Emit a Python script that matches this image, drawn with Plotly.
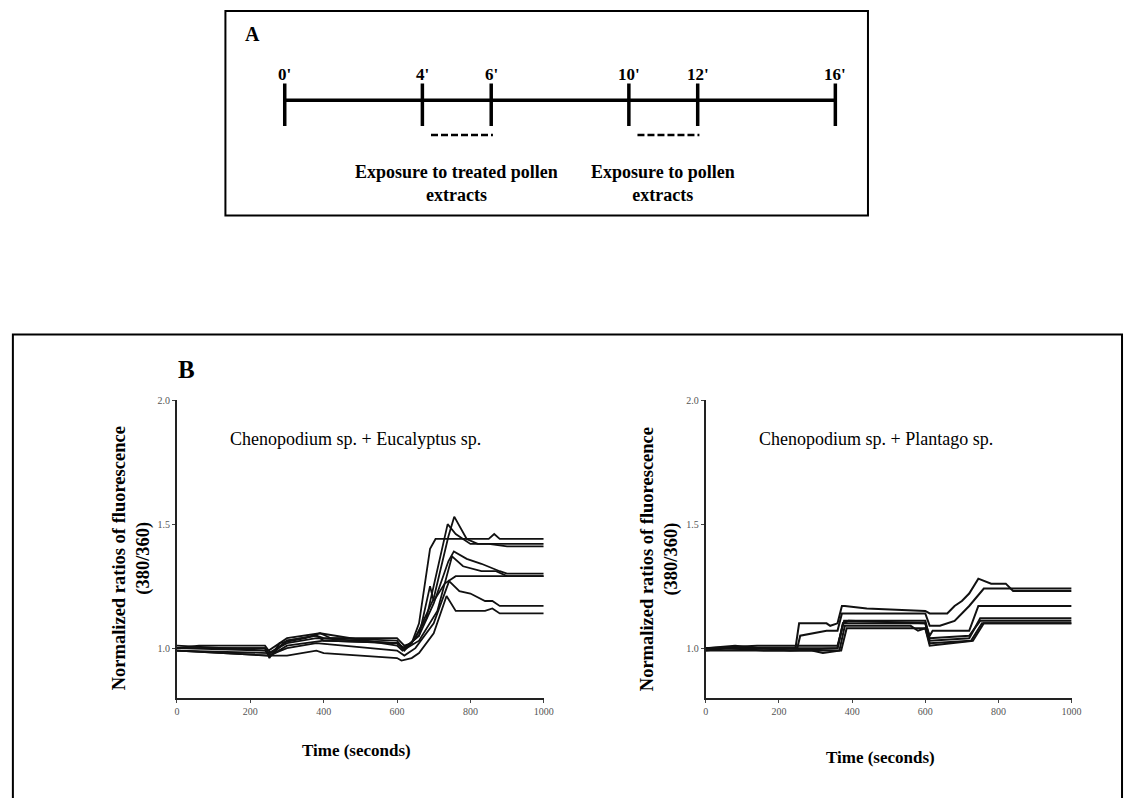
import plotly.graph_objects as go

# ---------------- Panel A data ----------------
timeline_minutes = [0, 4, 6, 10, 12, 16]
timeline_labels = ["0'", "4'", "6'", "10'", "12'", "16'"]
exposure_windows = [(4, 6), (10, 12)]
exposure_texts = ["Exposure to treated pollen<br>extracts", "Exposure to pollen<br>extracts"]

# ---------------- Panel B data (left: Chenopodium + Eucalyptus) ----------------
left_t1 = [0, 60, 240, 255, 300, 380, 400, 600, 620, 640, 660, 690, 705, 850, 865, 880, 1000]
left_v1 = [1.00, 1.01, 1.01, 0.98, 1.03, 1.05, 1.04, 1.04, 1.01, 1.02, 1.10, 1.40, 1.44, 1.44, 1.46, 1.44, 1.44]
left_t2 = [0, 240, 252, 280, 350, 390, 420, 600, 615, 640, 680, 715, 738, 760, 800, 850, 900, 1000]
left_v2 = [1.00, 1.00, 0.96, 1.02, 1.04, 1.06, 1.04, 1.03, 1.00, 1.02, 1.12, 1.35, 1.50, 1.46, 1.42, 1.42, 1.41, 1.41]
left_t3 = [0, 240, 255, 300, 380, 400, 600, 620, 650, 700, 740, 756, 790, 820, 1000]
left_v3 = [1.00, 1.00, 0.97, 1.03, 1.05, 1.03, 1.02, 0.99, 1.04, 1.20, 1.45, 1.53, 1.44, 1.42, 1.42]
left_t4 = [0, 250, 300, 380, 600, 620, 660, 700, 740, 755, 790, 830, 880, 900, 1000]
left_v4 = [0.99, 0.98, 1.02, 1.04, 1.02, 1.00, 1.05, 1.18, 1.35, 1.39, 1.36, 1.34, 1.31, 1.30, 1.30]
left_t5 = [0, 250, 300, 390, 600, 615, 660, 710, 750, 780, 830, 870, 900, 1000]
left_v5 = [1.01, 0.99, 1.04, 1.06, 1.01, 0.99, 1.03, 1.15, 1.37, 1.33, 1.31, 1.31, 1.29, 1.29]
left_t6 = [0, 240, 255, 300, 400, 600, 620, 660, 690, 700, 730, 760, 1000]
left_v6 = [1.00, 0.99, 0.97, 1.01, 1.03, 1.02, 1.00, 1.05, 1.25, 1.19, 1.26, 1.29, 1.29]
left_t7 = [0, 250, 300, 380, 600, 620, 650, 700, 742, 770, 800, 840, 860, 880, 1000]
left_v7 = [0.99, 0.97, 1.00, 1.02, 0.99, 0.97, 1.00, 1.10, 1.27, 1.23, 1.22, 1.19, 1.19, 1.17, 1.17]
left_t8 = [0, 250, 300, 380, 400, 500, 600, 612, 640, 660, 700, 735, 760, 840, 860, 880, 1000]
left_v8 = [0.99, 0.97, 0.97, 0.99, 0.98, 0.97, 0.96, 0.95, 0.96, 0.98, 1.06, 1.21, 1.15, 1.15, 1.16, 1.14, 1.14]

# ---------------- Panel B data (right: Chenopodium + Plantago) ----------------
right_t1 = [0, 245, 255, 330, 340, 360, 372, 380, 440, 600, 612, 660, 680, 700, 720, 745, 780, 820, 840, 1000]
right_v1 = [1.00, 1.00, 1.10, 1.10, 1.09, 1.10, 1.17, 1.17, 1.16, 1.15, 1.14, 1.14, 1.17, 1.19, 1.22, 1.28, 1.26, 1.26, 1.23, 1.23]
right_t2 = [0, 250, 258, 300, 330, 360, 372, 385, 600, 612, 640, 680, 720, 760, 1000]
right_v2 = [1.00, 1.00, 1.05, 1.06, 1.07, 1.07, 1.14, 1.14, 1.14, 1.09, 1.09, 1.11, 1.17, 1.24, 1.24]
right_t3 = [0, 80, 150, 230, 360, 375, 390, 600, 612, 620, 720, 745, 1000]
right_v3 = [1.00, 1.01, 1.00, 0.99, 1.00, 1.10, 1.11, 1.10, 1.05, 1.07, 1.07, 1.17, 1.17]
right_t4 = [0, 360, 375, 600, 612, 720, 750, 1000]
right_v4 = [1.00, 1.00, 1.10, 1.10, 1.03, 1.04, 1.12, 1.12]
right_t5 = [0, 60, 160, 290, 320, 365, 380, 560, 580, 600, 612, 725, 755, 1000]
right_v5 = [0.99, 1.00, 0.99, 0.99, 0.98, 0.99, 1.09, 1.09, 1.07, 1.08, 1.02, 1.03, 1.10, 1.10]
right_t6 = [0, 140, 360, 378, 600, 612, 720, 750, 1000]
right_v6 = [1.00, 1.01, 1.01, 1.11, 1.11, 1.04, 1.05, 1.11, 1.11]
right_t7 = [0, 370, 385, 600, 612, 730, 760, 1000]
right_v7 = [0.99, 0.99, 1.08, 1.08, 1.01, 1.03, 1.10, 1.10]

left_series = [(left_t1, left_v1), (left_t2, left_v2), (left_t3, left_v3), (left_t4, left_v4),
               (left_t5, left_v5), (left_t6, left_v6), (left_t7, left_v7), (left_t8, left_v8)]
right_series = [(right_t1, right_v1), (right_t2, right_v2), (right_t3, right_v3), (right_t4, right_v4),
                (right_t5, right_v5), (right_t6, right_v6), (right_t7, right_v7)]

x_ticks = [0, 200, 400, 600, 800, 1000]
y_ticks = [1.0, 1.5, 2.0]
y_tick_labels = ["1.0", "1.5", "2.0"]
left_title = "Chenopodium sp. + Eucalyptus sp."
right_title = "Chenopodium sp. + Plantago sp."
x_title = "Time (seconds)"
y_title = "Normalized ratios of fluorescence<br>(380/360)"

W, H = 1134, 798
SERIF = "Liberation Serif, Times New Roman, serif"


def px(x):
    return x / W


def py(y):
    return 1 - y / H


fig = go.Figure()

# Panel A timeline on its own axes (1 unit = 20 px vertically)
fig.add_trace(go.Scatter(x=[timeline_minutes[0], timeline_minutes[-1]], y=[0, 0], mode="lines",
                         line=dict(color="black", width=3.5), xaxis="x3", yaxis="y3",
                         showlegend=False, hoverinfo="skip"))
for m in timeline_minutes:
    fig.add_trace(go.Scatter(x=[m, m], y=[-1.3, 0.85], mode="lines",
                             line=dict(color="black", width=3.5), xaxis="x3", yaxis="y3",
                             showlegend=False, hoverinfo="skip"))
for (a, b) in exposure_windows:
    fig.add_trace(go.Scatter(x=[a + 0.25, b + 0.05], y=[-1.75, -1.75], mode="lines",
                             line=dict(color="black", width=2.5, dash="7px,3px"),
                             xaxis="x3", yaxis="y3", showlegend=False, hoverinfo="skip"))

# Panel B traces
for t, v in left_series:
    fig.add_trace(go.Scatter(x=t, y=v, mode="lines", line=dict(color="#111111", width=1.8),
                             xaxis="x", yaxis="y", showlegend=False))
for t, v in right_series:
    fig.add_trace(go.Scatter(x=t, y=v, mode="lines", line=dict(color="#111111", width=2),
                             xaxis="x2", yaxis="y2", showlegend=False))

axis_common_x = dict(range=[0, 1000], tickvals=x_ticks, ticks="outside", ticklen=3, tickwidth=1,
                     showline=True, linecolor="#222222", linewidth=2, showgrid=False, zeroline=False,
                     tickfont=dict(family=SERIF, size=10, color="#555555"), fixedrange=True)
axis_common_y = dict(range=[0.8, 2.0], tickvals=y_ticks, ticktext=y_tick_labels, ticks="outside",
                     ticklen=3, tickwidth=1, showline=True, linecolor="#222222", linewidth=2,
                     showgrid=False, zeroline=False,
                     tickfont=dict(family=SERIF, size=10, color="#555555"), fixedrange=True)

y_dom = [py(697), py(397)]
MIN_PX = (842 - 285) / 16.0  # pixels per minute on the timeline

fig.update_layout(
    width=W, height=H, margin=dict(l=0, r=0, t=0, b=0),
    paper_bgcolor="white", plot_bgcolor="rgba(0,0,0,0)",
    xaxis=dict(domain=[px(176), px(547)], anchor="y", **axis_common_x),
    yaxis=dict(domain=y_dom, anchor="x", **axis_common_y),
    xaxis2=dict(domain=[px(711), px(1081)], anchor="y2", **axis_common_x),
    yaxis2=dict(domain=y_dom, anchor="x2", **axis_common_y),
    xaxis3=dict(domain=[px(285 - 0.5 * MIN_PX), px(842 + 0.5 * MIN_PX)], range=[-0.5, 16.5],
                anchor="y3", visible=False, fixedrange=True),
    yaxis3=dict(domain=[py(211), py(5)], range=[-5.8, 4.5], anchor="x3", visible=False, fixedrange=True),
    showlegend=False,
)

ann = []
# Panel A labels
ann.append(dict(text="<b>A</b>", x=px(243), y=py(28), xref="paper", yref="paper", showarrow=False,
                xanchor="left", yanchor="middle", font=dict(family=SERIF, size=20, color="black")))
for m, lab in zip(timeline_minutes, timeline_labels):
    ann.append(dict(text="<b>" + lab + "</b>", x=m, y=1.3, xref="x3", yref="y3", showarrow=False,
                    xanchor="center", yanchor="middle", font=dict(family=SERIF, size=17, color="black")))
for (a, b), txt in zip(exposure_windows, exposure_texts):
    ann.append(dict(text="<b>" + txt + "</b>", x=(a + b) / 2, y=-4.2, xref="x3", yref="y3",
                    showarrow=False, xanchor="center", yanchor="middle", align="center",
                    font=dict(family=SERIF, size=18, color="black")))

# Panel B labels
ann.append(dict(text="<b>B</b>", x=px(186), y=py(366), xref="paper", yref="paper", showarrow=False,
                xanchor="center", yanchor="middle", font=dict(family=SERIF, size=25, color="black")))
for xc, title in [(357, left_title), (883, right_title)]:
    ann.append(dict(text=title, x=px(xc), y=py(436), xref="paper", yref="paper", showarrow=False,
                    xanchor="center", yanchor="middle", font=dict(family=SERIF, size=18, color="black")))
for xc, yc in [(358, 750), (888, 757)]:
    ann.append(dict(text="<b>" + x_title + "</b>", x=px(xc), y=py(yc), xref="paper", yref="paper",
                    showarrow=False, xanchor="center", yanchor="middle",
                    font=dict(family=SERIF, size=17, color="black")))
for xc in [130, 664]:
    ann.append(dict(text="<b>" + y_title + "</b>", x=px(xc), y=py(557), xref="paper", yref="paper",
                    showarrow=False, xanchor="center", yanchor="middle", textangle=-90, align="center",
                    font=dict(family=SERIF, size=18.5, color="black")))
fig.update_layout(annotations=ann)

# Frames around the panels
fig.update_layout(shapes=[
    dict(type="rect", xref="paper", yref="paper", x0=px(225), x1=px(875), y0=py(211), y1=py(5),
         line=dict(color="black", width=2)),
    dict(type="rect", xref="paper", yref="paper", x0=px(10), x1=px(1132), y0=py(810), y1=py(331),
         line=dict(color="black", width=2)),
])

fig.write_html("out.html", config={"displayModeBar": False},
               post_script="document.body.style.margin='0';")
